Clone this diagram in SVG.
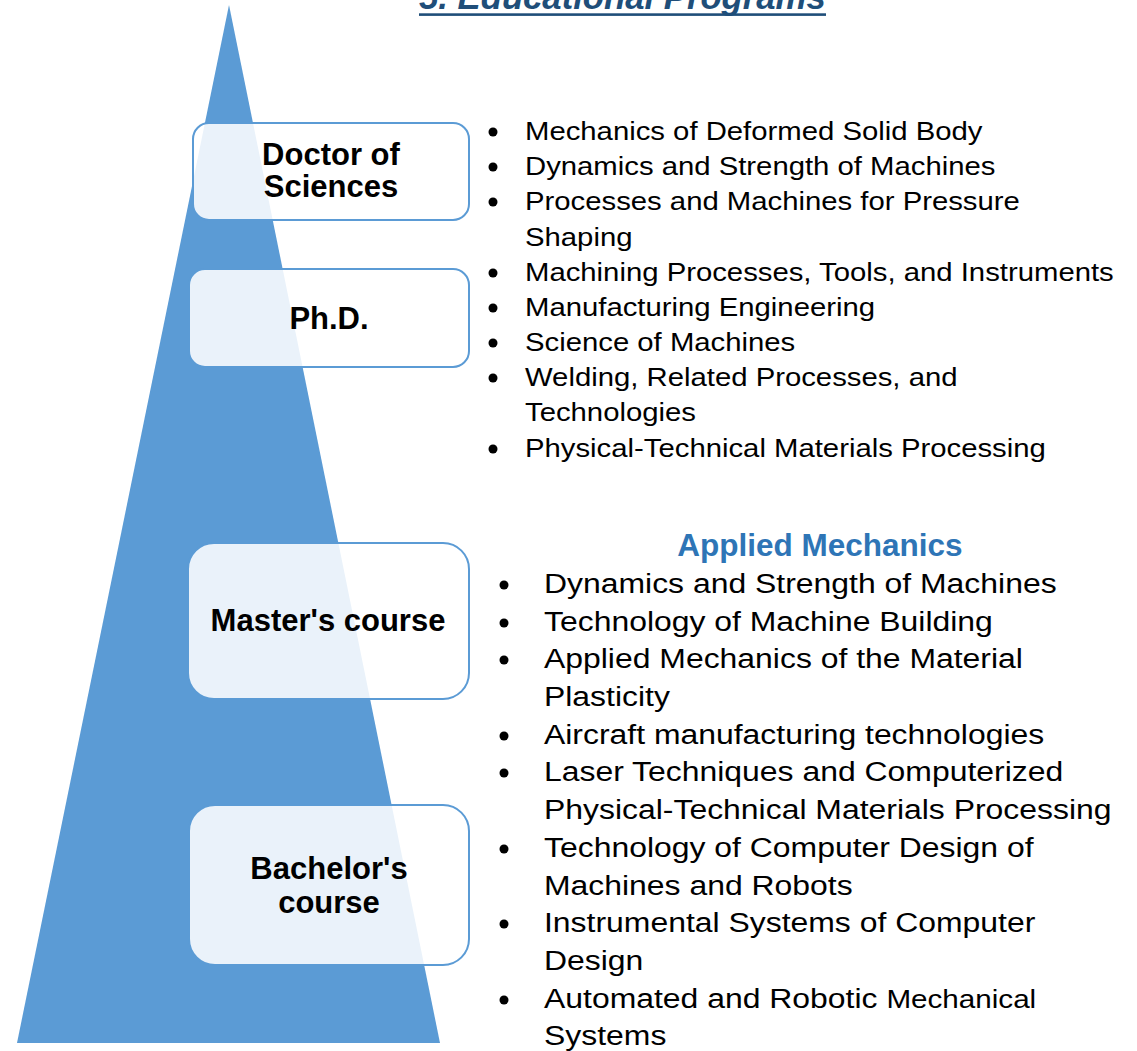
<svg xmlns="http://www.w3.org/2000/svg" width="1137" height="1051" viewBox="0 0 1137 1051">
<style>
.box{fill:#ffffff;fill-opacity:0.87;stroke:#5B9BD5;stroke-width:2}
.lbl{font-family:"Liberation Sans",Arial,sans-serif;font-weight:bold;font-size:31px;fill:#000;text-anchor:middle}
.li{font-family:"Liberation Sans",Arial,sans-serif;fill:#000}
.top{font-size:25.7px}
.bot{font-size:28px}
.bul{fill:#000}
</style>
<rect width="1137" height="1051" fill="#ffffff"/>
<g id="title">
<text x="419" y="8.5" font-family="Liberation Sans, Arial, sans-serif" font-weight="bold" font-style="italic" font-size="34.7" fill="#1F4E79">5. Educational Programs</text>
<rect x="419" y="13.3" width="407" height="2.6" fill="#1F4E79"/>
</g>
<g id="pyramid">
<polygon points="229,5 440,1043 17,1043" fill="#5B9BD5"/>
</g>
<g id="connectors"></g>
<g id="doctor">
<rect class="box" x="193" y="123" width="276" height="97" rx="16"/>
<text class="lbl" x="331" y="165">Doctor of</text>
<text class="lbl" x="331" y="197">Sciences</text>
</g>
<g id="phd">
<rect class="box" x="189" y="269" width="280" height="98" rx="16"/>
<text class="lbl" x="329" y="329">Ph.D.</text>
</g>
<g id="master">
<rect class="box" x="188" y="543" width="281" height="156" rx="26"/>
<text class="lbl" x="328" y="631">Master's course</text>
</g>
<g id="bachelor">
<rect class="box" x="189" y="805" width="280" height="160" rx="26"/>
<text class="lbl" x="329" y="879">Bachelor's</text>
<text class="lbl" x="329" y="913">course</text>
</g>
<g id="research-list">
<g class="bul">
<circle cx="493" cy="132" r="4.5"/><circle cx="493" cy="167" r="4.5"/><circle cx="493" cy="202" r="4.5"/>
<circle cx="493" cy="273" r="4.5"/><circle cx="493" cy="308" r="4.5"/><circle cx="493" cy="343" r="4.5"/>
<circle cx="493" cy="378" r="4.5"/><circle cx="493" cy="449" r="4.5"/>
</g>
<g transform="translate(525 0) scale(1.14 1)" class="li top">
<text x="0" y="140">Mechanics of Deformed Solid Body</text>
<text x="0" y="175">Dynamics and Strength of Machines</text>
<text x="0" y="210">Processes and Machines for Pressure</text>
<text x="0" y="246">Shaping</text>
<text x="0" y="281">Machining Processes, Tools, and Instruments</text>
<text x="0" y="316">Manufacturing Engineering</text>
<text x="0" y="351">Science of Machines</text>
<text x="0" y="386">Welding, Related Processes, and</text>
<text x="0" y="421">Technologies</text>
<text x="0" y="457">Physical-Technical Materials Processing</text>
</g>
</g>
<g id="applied-mechanics">
<text x="820" y="556" font-family="Liberation Sans, Arial, sans-serif" font-weight="bold" font-size="31.5" fill="#2E75B6" text-anchor="middle">Applied Mechanics</text>
<g class="bul">
<circle cx="504" cy="585" r="4.5"/><circle cx="504" cy="623" r="4.5"/><circle cx="504" cy="660" r="4.5"/>
<circle cx="504" cy="736" r="4.5"/><circle cx="504" cy="773" r="4.5"/><circle cx="504" cy="849" r="4.5"/>
<circle cx="504" cy="924" r="4.5"/><circle cx="504" cy="1000" r="4.5"/>
</g>
<g transform="translate(544 0) scale(1.14 1)" class="li bot">
<text x="0" y="593">Dynamics and Strength of Machines</text>
<text x="0" y="631">Technology of Machine Building</text>
<text x="0" y="668">Applied Mechanics of the Material</text>
<text x="0" y="706">Plasticity</text>
<text x="0" y="744">Aircraft manufacturing technologies</text>
<text x="0" y="781">Laser Techniques and Computerized</text>
<text x="0" y="819">Physical-Technical Materials Processing</text>
<text x="0" y="857">Technology of Computer Design of</text>
<text x="0" y="895">Machines and Robots</text>
<text x="0" y="932">Instrumental Systems of Computer</text>
<text x="0" y="970">Design</text>
<text x="0" y="1008">Automated and Robotic <tspan font-size="26px">Mechanical</tspan></text>
<text x="0" y="1045">Systems</text>
</g>
</g>
</svg>
